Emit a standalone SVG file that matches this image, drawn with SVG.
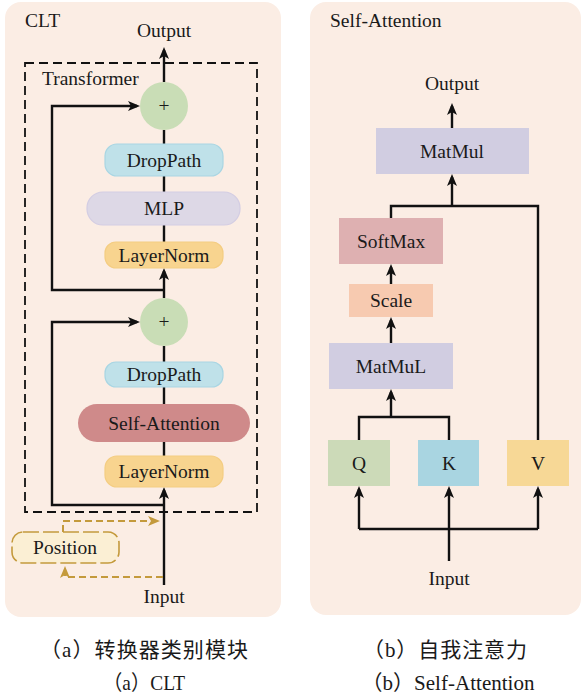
<svg xmlns="http://www.w3.org/2000/svg" id="root" width="582" height="700" viewBox="0 0 582 700">
<style>
svg#root text.t, svg#root text.t tspan{font-family:'Liberation Serif','Noto Sans CJK SC',serif !important}
.c{text-anchor:middle}
.ln{fill:none;stroke:#111;stroke-width:2.4}
.pd{fill:none;stroke:#C49A3C;stroke-width:2;stroke-dasharray:7 4}
.panel{fill:#FBEDE4}
</style>
<defs>
<marker id="ah" markerUnits="userSpaceOnUse" viewBox="0 0 12 10" markerWidth="12" markerHeight="10" refX="9" refY="5" orient="auto">
<path d="M0,0 L12,5 L0,10 L3,5 z" fill="#111"/>
</marker>
<marker id="ahp" markerUnits="userSpaceOnUse" viewBox="0 0 12 10" markerWidth="12" markerHeight="10" refX="9" refY="5" orient="auto">
<path d="M0,0 L12,5 L0,10 L3,5 z" fill="#C49A3C"/>
</marker>
</defs>

<rect class="panel" x="5" y="2" width="276" height="615" rx="16"/>
<rect class="panel" x="310" y="2" width="271" height="613" rx="16"/>

<g id="left-labels" fill="#1a1a1a" font-size="19.5">
<text class="t" x="25" y="27">CLT</text>
<text class="t c" x="164" y="37">Output</text>
<text class="t" x="42" y="85">Transformer</text>
<text class="t c" x="164" y="603">Input</text>
</g>
<rect id="transformer-box" x="25" y="63" width="232" height="449" fill="none" stroke="#111" stroke-width="1.8" stroke-dasharray="9 5"/>

<g id="connectors">
<path class="ln" d="M164,82 V50" marker-end="url(#ah)"/>
<path class="ln" d="M164,144 V130"/>
<path class="ln" d="M164,192 V176"/>
<path class="ln" d="M164,242 V225"/>
<path class="ln" d="M164,298 V271" marker-end="url(#ah)"/>
<path class="ln" d="M164,290 H52 V106 H137" marker-end="url(#ah)"/>
<path class="ln" d="M164,362 V346"/>
<path class="ln" d="M164,404 V387"/>
<path class="ln" d="M164,456 V442"/>
<path class="ln" d="M164,585 V490" marker-end="url(#ah)"/>
<path class="ln" d="M164,505 H52 V322 H137" marker-end="url(#ah)"/>
<path class="pd" d="M63,532 V521 H157" marker-end="url(#ahp)"/>
<path class="pd" d="M163,577 H65 V569" marker-end="url(#ahp)"/>

<path class="ln" d="M452,128 V106" marker-end="url(#ah)"/>
<path class="ln" d="M391,218 V206 H538 V440"/>
<path class="ln" d="M452,206 V177" marker-end="url(#ah)"/>
<path class="ln" d="M391,284 V267" marker-end="url(#ah)"/>
<path class="ln" d="M391,343 V320" marker-end="url(#ah)"/>
<path class="ln" d="M359,440 V417 H449 V440"/>
<path class="ln" d="M391,417 V392" marker-end="url(#ah)"/>
<path class="ln" d="M359,529 H538"/>
<path class="ln" d="M359,529 V489" marker-end="url(#ah)"/>
<path class="ln" d="M538,529 V489" marker-end="url(#ah)"/>
<path class="ln" d="M449,561 V489" marker-end="url(#ah)"/>
</g>

<g font-size="19.5" fill="#1a1a1a">
<g id="add1"><circle cx="164" cy="106" r="24" fill="#C9DDB6"/><text class="t c" x="164" y="112">+</text></g>
<g id="droppath1"><rect x="105" y="144" width="118" height="32" rx="12" fill="#BFE1E9" stroke="#A9D6E3" stroke-width="1.2"/><text class="t c" x="164" y="167">DropPath</text></g>
<g id="mlp"><rect x="87" y="192" width="153" height="33" rx="16" fill="#DDD8E6" stroke="#D3CDE3" stroke-width="1.2"/><text class="t c" x="164" y="215">MLP</text></g>
<g id="layernorm1"><rect x="105" y="242" width="118" height="26" rx="11" fill="#F8D48F" stroke="#F4CD82" stroke-width="1.2"/><text class="t c" x="164" y="262">LayerNorm</text></g>
<g id="add2"><circle cx="164" cy="322" r="24" fill="#C9DDB6"/><text class="t c" x="164" y="328">+</text></g>
<g id="droppath2"><rect x="105" y="362" width="118" height="25" rx="11" fill="#BFE1E9" stroke="#A9D6E3" stroke-width="1.2"/><text class="t c" x="164" y="381">DropPath</text></g>
<g id="self-attention"><rect x="78" y="404" width="172" height="38" rx="19" fill="#CF8A8A"/><text class="t c" x="164" y="430">Self-Attention</text></g>
<g id="layernorm2"><rect x="105" y="456" width="118" height="31" rx="12" fill="#F8D48F" stroke="#F4CD82" stroke-width="1.2"/><text class="t c" x="164" y="478">LayerNorm</text></g>
<g id="position"><rect x="12" y="532" width="107" height="31" rx="11" fill="#FBEFD4" stroke="#C49A3C" stroke-width="1.6" stroke-dasharray="16 4"/><text class="t c" x="65" y="554">Position</text></g>

<g id="right-labels">
<text class="t" x="330" y="27">Self-Attention</text>
<text class="t c" x="452" y="90">Output</text>
<text class="t c" x="449" y="585">Input</text>
</g>
<g id="matmul"><rect x="376" y="128" width="153" height="46" fill="#D1CDE1"/><text class="t c" x="452" y="158">MatMul</text></g>
<g id="softmax"><rect x="339" y="218" width="104" height="46" fill="#DEB0B1"/><text class="t c" x="391" y="248">SoftMax</text></g>
<g id="scale"><rect x="349" y="284" width="84" height="33" fill="#F7CAB0"/><text class="t c" x="391" y="307">Scale</text></g>
<g id="matmul2"><rect x="329" y="343" width="124" height="46" fill="#D1CDE1"/><text class="t c" x="391" y="373">MatMuL</text></g>
<g id="q"><rect x="328" y="440" width="62" height="46" fill="#CCDAB8"/><text class="t c" x="359" y="470">Q</text></g>
<g id="k"><rect x="418" y="440" width="61" height="46" fill="#A9D5E1"/><text class="t c" x="449" y="470">K</text></g>
<g id="v"><rect x="507" y="440" width="62" height="46" fill="#F7D896"/><text class="t c" x="538" y="470">V</text></g>
</g>

<g id="captions" font-size="21" fill="#1a1a1a">
<text class="t c" x="144" y="657" textLength="208" lengthAdjust="spacing">（a）转换器类别模块</text>
<text class="t c" x="144" y="690" textLength="82" lengthAdjust="spacingAndGlyphs">（a）CLT</text>
<text class="t c" x="445" y="657" textLength="164" lengthAdjust="spacing">（b）自我注意力</text>
<text class="t c" x="448" y="690" textLength="173" lengthAdjust="spacing">（b）Self-Attention</text>
</g>
</svg>
